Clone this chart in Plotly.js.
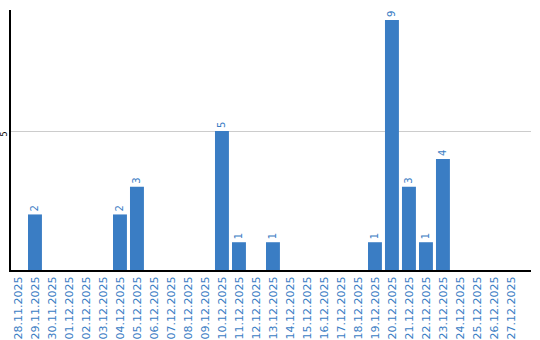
<!DOCTYPE html>
<html>
<head>
<meta charset="utf-8">
<script src="https://cdn.plot.ly/plotly-3.0.1.min.js"></script>
<style>html,body{margin:0;padding:0;background:#fff;}#chart{width:540px;height:340px;}</style>
</head>
<body>
<div id="chart"></div>
<script>
const dates = ["28.11.2025","29.11.2025","30.11.2025","01.12.2025","02.12.2025","03.12.2025","04.12.2025","05.12.2025","06.12.2025","07.12.2025","08.12.2025","09.12.2025","10.12.2025","11.12.2025","12.12.2025","13.12.2025","14.12.2025","15.12.2025","16.12.2025","17.12.2025","18.12.2025","19.12.2025","20.12.2025","21.12.2025","22.12.2025","23.12.2025","24.12.2025","25.12.2025","26.12.2025","27.12.2025"];
const counts = [0,2,0,0,0,0,2,3,0,0,0,0,5,1,0,1,0,0,0,0,0,1,9,3,1,4,0,0,0,0];
const labels = counts.map(v => v > 0 ? String(v) : "");
const blue = "rgb(58,125,196)";

Plotly.newPlot("chart", [{
  type: "bar",
  x: dates,
  y: counts,
  text: labels,
  textposition: "outside",
  textangle: -90,
  textfont: {family: "DejaVu Sans", size: 10, color: blue},
  cliponaxis: false,
  marker: {color: blue},
  hoverinfo: "none"
}], {
  width: 540, height: 340,
  margin: {l: 11, r: 9, t: 10, b: 70, pad: 0},
  paper_bgcolor: "#fff", plot_bgcolor: "#fff",
  bargap: 0.18,
  showlegend: false,
  font: {family: "DejaVu Sans"},
  xaxis: {
    type: "category",
    range: [-0.41, 30.18],
    tickangle: -90,
    tickfont: {family: "DejaVu Sans", size: 11, color: blue},
    showgrid: false,
    showline: true, linecolor: "#000", linewidth: 2,
    ticks: "", automargin: false
  },
  yaxis: {
    range: [0, 9.36],
    tickvals: [5],
    ticktext: ["5"],
    tickangle: -90,
    ticklabelshift: 4,
    ticklabelstandoff: -1,
    tickfont: {family: "DejaVu Sans", size: 8, color: "#000"},
    showgrid: true, gridcolor: "#cccccc", gridwidth: 1,
    showline: true, linecolor: "#000", linewidth: 2,
    zeroline: false, ticks: "", automargin: false
  }
}, {staticPlot: true, displayModeBar: false});
</script>
</body>
</html>
